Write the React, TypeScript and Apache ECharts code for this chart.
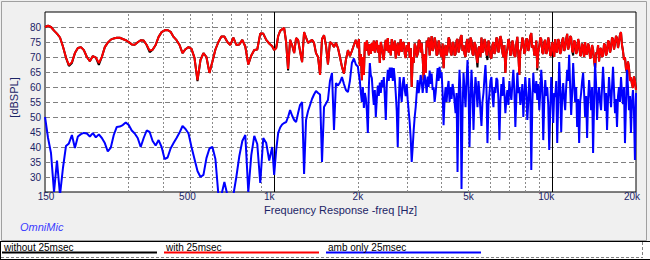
import { useEffect, useRef } from 'react';
import * as echarts from 'echarts';

// Frequency grid of the measurement (Hz)
const freqs = [
  150, 153.8, 157.6, 161.6, 165.6, 169.8, 174, 178.4, 182.8, 187.4,
  192.1, 196.9, 201.9, 206.9, 212.1, 217.4, 222.9, 228.5, 234.2, 240.1,
  246.1, 252.2, 258.6, 265, 271.7, 278.5, 285.5, 292.6, 300, 307.5,
  315.2, 323.1, 331.2, 339.5, 348, 356.7, 365.6, 374.8, 384.2, 393.8,
  403.7, 413.8, 424.2, 434.8, 445.7, 456.9, 468.3, 480, 492.1, 504.4,
  517, 530, 543.3, 556.9, 570.8, 585.2, 599.8, 614.8, 630.3, 646,
  662.2, 678.8, 695.8, 713.3, 731.1, 749.5, 768.2, 787.5, 807.2, 827.5,
  848.2, 869.4, 891.2, 913.6, 936.5, 959.9, 984,
  1000, 1017, 1034, 1051, 1068, 1086, 1104, 1122, 1141, 1160,
  1180, 1199, 1219, 1239, 1260, 1281, 1302, 1324, 1346, 1368,
  1391, 1414, 1438, 1462, 1486, 1511, 1536, 1561, 1587, 1614,
  1641, 1668, 1696, 1724, 1753, 1782, 1811, 1842, 1872, 1903,
  1935, 1967,
  2000, 2017, 2033, 2050, 2067, 2084, 2102, 2119, 2136, 2154,
  2172, 2190, 2208, 2226, 2245, 2263, 2282, 2301, 2320, 2339,
  2359, 2378, 2398, 2418, 2438, 2458, 2479, 2499, 2520, 2541,
  2562, 2583, 2604, 2626, 2648, 2670, 2692, 2714, 2736, 2759,
  2782, 2805, 2828, 2852, 2875, 2899, 2923, 2948, 2972, 2997,
  3021, 3046, 3072, 3097, 3123, 3149, 3175, 3201, 3228, 3254,
  3281, 3308, 3336, 3363, 3391, 3419, 3448, 3476, 3505, 3534,
  3564, 3593, 3623, 3653, 3683, 3714, 3744, 3775, 3807, 3838,
  3870, 3902, 3934, 3967, 4000, 4033, 4066, 4100, 4134, 4168,
  4203, 4238, 4273, 4308, 4344, 4380, 4416, 4453, 4490, 4527,
  4564, 4602, 4640, 4679, 4717, 4757, 4796, 4836, 4876, 4916,
  4957, 4998, 5039, 5081, 5123, 5166, 5209, 5252, 5295, 5339,
  5383, 5428, 5473, 5518, 5564, 5610, 5657, 5703, 5751, 5798,
  5846, 5895, 5944, 5993, 6043, 6093, 6143, 6194, 6245, 6297,
  6349, 6402, 6455, 6508, 6562, 6617, 6671, 6727, 6782, 6839,
  6895, 6953, 7010, 7068, 7127, 7186, 7245, 7305, 7366, 7427,
  7488, 7550, 7613, 7676, 7740, 7804, 7868, 7934, 7999, 8066,
  8133, 8200, 8268, 8336, 8405, 8475, 8545, 8616, 8688, 8760,
  8832, 8905, 8979, 9053, 9128, 9204, 9280, 9357, 9435, 9513,
  9592, 9671, 9751, 9832, 9914, 9996, 10079, 10162, 10246, 10331,
  10417, 10503, 10590, 10678, 10766, 10855, 10945, 11036, 11127, 11220,
  11313, 11407, 11501, 11596, 11692, 11789, 11887, 11985, 12085, 12185,
  12286, 12388, 12490, 12594, 12698, 12803, 12909, 13016, 13124, 13233,
  13343, 13453, 13565, 13677, 13790, 13905, 14020, 14136, 14253, 14371,
  14490, 14610, 14731, 14853, 14976, 15101, 15226, 15352, 15479, 15607,
  15737, 15867, 15999, 16131, 16265, 16400, 16535, 16672, 16810, 16950,
  17090, 17232, 17375, 17519, 17664, 17810, 17958, 18106, 18256, 18407,
  18560, 18714, 18869, 19025, 19183, 19342, 19502, 19663, 19826, 20000,
];

// "without 25msec" (dBSPL)
const withoutDb = [
  80, 80.4, 80, 78.8, 77.8, 76.5, 73.5, 69.8, 67, 68,
  71.3, 73, 73.3, 72.3, 70, 68.6, 70.3, 69.8, 67.4, 70,
  73.3, 74.8, 75.8, 76.2, 76.4, 76.4, 76, 75.6, 75, 74.2,
  74.1, 74.9, 75.6, 75.5, 74, 71.6, 72.4, 74, 76.7, 78.3,
  78.9, 79, 78.4, 76.7, 75.6, 74, 71.3, 72.6, 73.3, 72.7,
  69.7, 62, 69, 71.3, 70, 64.7, 68.5, 72.5, 75, 76.8,
  76.8, 75, 74, 76.5, 74, 74.2, 75.7, 73.5, 67.5, 70.5,
  72.3, 72.5, 77.8, 77.8, 75.7, 74.5, 73.6,
  72.3, 73, 77, 78.7, 79.2, 79.7, 75, 65.5, 75.7, 74,
  71.3, 76.3, 75.7, 72, 68.3, 78.3, 76.5, 74.7, 75.2, 75.7,
  74.7, 71.3, 70, 64, 76, 77.3, 73.8, 67.5, 75, 74.5,
  73.3, 74.7, 73, 70, 66.7, 64.5, 69, 72.3, 70.3, 72,
  74, 75.7,
  73, 76, 67, 71, 62.3, 70, 64, 75, 72, 75.5,
  73.5, 70.5, 74.3, 71, 74.7, 72, 75.5, 71.5, 74, 75.5,
  71.5, 74, 68, 75, 73.3, 71, 69, 74, 75.7, 72,
  76.3, 71.5, 74, 70.5, 76, 72.5, 72.3, 75.5, 69.5, 73,
  74.7, 70.5, 73, 76, 71.7, 74.5, 75, 71, 69.7, 74,
  72, 75, 69.7, 73, 60, 70, 68, 74.5, 73.3, 70,
  71, 75.5, 75.5, 71.5, 74.7, 70, 62.3, 71, 64.7, 75.5,
  73.3, 76.5, 70.5, 74, 77, 72, 73, 76.5, 75, 70.5,
  71, 75.5, 74, 71, 70, 74.5, 66.3, 72, 74, 70.5,
  72, 76.5, 75.7, 71.5, 70.5, 75, 74.5, 70.5, 71, 75.5,
  76, 71.5, 73, 76.5, 77.3, 72, 74, 71, 70, 75,
  76, 71.5, 72.5, 76.5, 75.5, 71, 70.5, 75, 74, 70,
  66.5, 73, 73.5, 70, 76.5, 71.5, 72, 76, 75, 71,
  69, 75.5, 73.5, 70, 69.5, 74, 75, 71, 72, 76.5,
  76, 71.5, 73, 77, 75.7, 71.5, 70, 74, 64.7, 71,
  72.5, 76, 75, 70.5, 71, 75.5, 74, 70.5, 70, 74.5,
  76.7, 71, 64, 72, 73, 76.5, 75.5, 71, 72, 76,
  76, 72, 73.5, 77, 78, 73, 74, 70.5, 71, 75.5,
  65.5, 72, 73.5, 76.5, 76, 71.5, 71, 75, 75.7, 71,
  72, 76.5, 74.5, 70.5, 70.5, 75, 73.5, 70, 76, 72,
  71.5, 76, 75, 71, 72, 75.5, 76.5, 72, 73, 76,
  77.7, 72.5, 74, 77, 76.5, 72, 70.5, 75.5, 75, 71,
  72, 76, 74.5, 70.5, 70.5, 74.5, 73.5, 70, 75, 71,
  71, 74.5, 73.5, 69.5, 70, 74, 72.5, 69, 66.3, 71.5,
  71, 74, 68.5, 72.5, 73, 70, 70.5, 74.5, 74, 70.5,
  71.5, 75.5, 75, 71.5, 73, 76.5, 76, 72.5, 74.5, 77,
  76.3, 73, 75, 77.5, 78.3, 74, 72, 69, 70, 66,
  65, 68.5, 66.5, 62, 63.3, 61, 59.7, 63.5, 62, 59,
];

// "with 25msec" (dBSPL)
const withDb = [
  80, 80.4, 80, 78.8, 77.8, 76.5, 73.5, 69.8, 67.3, 68.3,
  71.3, 73, 73.3, 72.3, 70, 68.6, 70.3, 69.8, 68, 70,
  73.3, 74.8, 75.8, 76.2, 76.4, 76.4, 76, 75.6, 75, 74.2,
  74.1, 74.9, 75.6, 75.5, 74, 72.2, 72.4, 74, 76.7, 78.3,
  78.9, 79, 78.4, 76.7, 75.6, 74, 71.3, 72.6, 73.3, 72.7,
  69.7, 62.3, 69, 71.3, 70, 64.7, 68.5, 72.5, 75, 76.8,
  76.8, 75, 74, 76.5, 74, 74.2, 75.7, 73.5, 67.5, 70.5,
  72.3, 72.5, 77.8, 77.8, 75.7, 74.5, 73.6,
  72.3, 73, 77, 78.7, 79.2, 79.7, 75, 66, 75.7, 74,
  71.3, 76.3, 75.7, 72, 68.3, 78.3, 76.5, 74.7, 75.2, 75.7,
  74.7, 71.3, 70, 64, 76, 77.3, 73.8, 67.5, 75, 74.5,
  73.3, 74.7, 73, 70, 66.7, 64.5, 69, 72.3, 70.3, 72,
  74, 75.7,
  73, 76, 67, 71, 62.3, 70, 64, 75, 72, 75.5,
  73.5, 70.5, 74.3, 71, 74.7, 72, 75.5, 71.5, 74, 75.5,
  71.5, 74, 68, 75, 73.3, 71, 69, 74, 75.7, 72,
  76.3, 71.5, 74, 70.5, 76, 72.5, 72.3, 75.5, 69.5, 73,
  74.7, 70.5, 73, 76, 71.7, 74.5, 75, 71, 69.7, 74,
  72, 75, 69.7, 73, 60, 70, 68, 74.5, 73.3, 70,
  71, 75.5, 75.5, 71.5, 74.7, 70, 62.3, 71, 64.7, 75.5,
  73.3, 76.5, 70.5, 74, 77, 72, 73, 76.5, 75, 70.5,
  71, 75.5, 74, 71, 70, 74.5, 66.3, 72, 74, 70.5,
  72, 76.5, 75.7, 71.5, 70.5, 75, 74.5, 70.5, 71, 75.5,
  76, 71.5, 73, 76.5, 77.3, 72, 74, 71, 70, 75,
  76, 71.5, 72.5, 76.5, 75.5, 71, 70.5, 75, 74, 70,
  68, 73, 73.5, 70, 76.5, 71.5, 72, 76, 75, 71,
  70.5, 75.5, 73.5, 70, 69.5, 74, 75, 71, 72, 76.5,
  76, 71.5, 73, 77, 75.7, 71.5, 70, 74, 64.7, 71,
  72.5, 76, 75, 70.5, 71, 75.5, 74, 70.5, 70, 74.5,
  76.7, 71, 64, 72, 73, 76.5, 75.5, 71, 72, 76,
  76, 72, 73.5, 77, 78, 73, 74, 70.5, 71, 75.5,
  66.3, 72, 73.5, 76.5, 76, 71.5, 71, 75, 75.7, 71,
  72, 76.5, 74.5, 70.5, 70.5, 75, 73.5, 70, 76, 72,
  71.5, 76, 75, 71, 72, 75.5, 76.5, 72, 73, 76,
  77.7, 72.5, 74, 77, 76.5, 72, 71.5, 75.5, 75, 71,
  72, 76, 74.5, 70.5, 70.5, 74.5, 73.5, 70, 75, 71,
  71, 74.5, 73.5, 69.5, 70, 74, 72.5, 69, 66.3, 71.5,
  71, 74, 68.5, 72.5, 73, 70, 70.5, 74.5, 74, 70.5,
  71.5, 75.5, 75, 71.5, 73, 76.5, 76, 72.5, 74.5, 77,
  76.3, 73, 75, 77.5, 78.3, 74, 72, 69, 70, 66,
  65, 68.5, 66.5, 62, 63.3, 61, 59.7, 63.5, 62, 59,
];

// "amb only 25msec" (dBSPL)
const ambDb = [
  50, 43, 38, 25, 35.5, 24, 33, 40.3, 41.2, 44,
  39.7, 43.5, 44.3, 44.7, 44.5, 43.5, 44.6, 43.2, 44.2, 43,
  41.3, 38.5, 39.8, 44, 46.7, 46.8, 47.3, 48.2, 47.3, 45.5,
  44.5, 43, 40, 43, 45.5, 45, 42, 40.5, 42.3, 40,
  36, 36.5, 39.5, 41.3, 43, 44.8, 47, 46, 44.5, 40,
  36, 32, 30, 30.7, 36.3, 39.5, 40, 36, 24, 24,
  28.3, 24, 24, 24, 30, 37, 42, 44, 25, 37.3,
  43.7, 41, 28, 43, 41.3, 35.5, 40,
  30.7, 39, 44.7, 46.5, 47.5, 48, 48.3, 50, 52.3, 50.5,
  49, 48.3, 51.3, 54, 55, 31, 49, 52, 54, 56,
  57.5, 58.7, 58, 57.5, 35, 53.3, 54.5, 55.7, 62, 64.7,
  45.7, 61.3, 60.5, 61.5, 63.3, 61, 59, 58.3, 62, 68,
  69.5, 67.5,
  66.8, 64, 62, 58, 55, 60, 53, 58, 56.3, 52,
  44.7, 60, 68, 64, 63, 58, 54, 59, 50, 56,
  60.5, 57, 61.5, 58, 62.3, 60, 63.3, 57, 49, 61,
  65.7, 62, 66.5, 63, 66.5, 62, 66.3, 63, 58, 52,
  40, 55, 63.3, 58, 55, 61, 63.3, 59, 57, 61,
  55.7, 52, 48, 43, 35, 40, 45.7, 50, 53.3, 58,
  62.3, 58, 60.5, 64, 62, 58, 61, 64, 61.7, 58,
  63.5, 60, 65.5, 61, 64.5, 59, 60, 55, 58, 62,
  66.3, 62, 66.7, 63, 65, 58, 47.3, 56, 60, 55,
  59.5, 62, 55, 60, 56, 61, 59, 55, 51.3, 58,
  31.7, 56, 65.7, 58, 26, 52, 64.7, 59, 53.3, 62,
  69, 60, 40, 56, 65.7, 58, 45.7, 57, 63.3, 59,
  53.3, 62, 58, 52, 47, 55, 58, 63, 67.3, 60,
  41.3, 54, 58, 62, 63.3, 57, 53.3, 60, 58, 63,
  62.3, 56, 42.3, 55, 61, 57, 63.3, 58, 51.3, 56,
  59, 54, 62, 58, 55.7, 61, 65.7, 59, 46.7, 56,
  64.7, 58, 60, 54, 56.7, 61, 50, 57, 63.3, 58,
  49, 55, 63, 58, 32.3, 54, 64.7, 59, 58, 62,
  55.7, 61, 52.3, 58, 65.7, 60, 42.3, 55, 62.3, 57,
  60, 54, 39, 52, 63.3, 57, 48, 58, 56.7, 62,
  41.3, 55, 68.3, 60, 45, 57, 61.3, 56, 52.3, 60,
  65.7, 62, 70.7, 60, 50.7, 58, 68, 61, 55, 60,
  46.7, 56, 41.3, 55, 58, 62, 64.7, 58, 50, 57,
  43, 56, 62.3, 58, 52.3, 60, 38, 55, 68, 61,
  49, 57, 60, 55, 52.3, 60, 66.7, 60, 52, 58,
  45.7, 56, 63.3, 58, 53.3, 60, 66.7, 59, 51.3, 56,
  46.7, 57, 60, 55, 63.3, 58, 54.3, 60, 41.3, 54,
  65.7, 60, 52.3, 57, 44.7, 55, 59, 52, 35.7, 58,
];

const seriesNames = ['without 25msec', 'with 25msec', 'amb only 25msec'];
const seriesColors = ['#000000', '#ff0000', '#0000ff'];

const xTickValues = [150, 500, 1000, 2000, 5000, 10000, 20000];
const xTickTexts = ['150', '500', '1k', '2k', '5k', '10k', '20k'];
const minorGridFreqs = [300, 400, 500, 600, 700, 800, 900, 2000, 3000, 4000, 5000, 6000, 7000, 8000, 9000];
const majorGridFreqs = [1000, 10000];

export default function App() {
  const ref = useRef<HTMLDivElement>(null);

  useEffect(() => {
    document.body.style.margin = '0';
    const chart = echarts.init(ref.current!, null, { renderer: 'svg' });
    const font = '"Liberation Sans", Arial, sans-serif';
    const tickColor = '#1b2466';
    const zip = (ys: number[]) => freqs.map((f, i) => [f, ys[i]]);
    const labelOffsets = [1, -3, -5, 0, 0, -6, -4];

    const markData: any[] = [
      ...minorGridFreqs.map((v) => ({
        xAxis: v,
        lineStyle: { color: '#8a8a8a', type: [2, 2], width: 1 },
      })),
      ...majorGridFreqs.map((v) => ({
        xAxis: v,
        lineStyle: { color: '#000000', type: 'solid', width: 1 },
      })),
      ...xTickValues.map((v, i) => ({
        xAxis: v,
        lineStyle: { color: 'rgba(0,0,0,0)', width: 0 },
        label: {
          show: true,
          position: 'start',
          distance: 0,
          formatter: xTickTexts[i],
          color: tickColor,
          fontSize: 10,
          fontFamily: font,
          offset: [labelOffsets[i], -1],
        },
      })),
    ];

    const series: any[] = seriesNames.map((name, k) => ({
      type: 'line',
      name,
      data: zip([withoutDb, withDb, ambDb][k]),
      symbol: 'none',
      showSymbol: false,
      lineStyle: { color: seriesColors[k], width: 2 },
      itemStyle: { color: seriesColors[k] },
      z: 2 + k,
      clip: true,
      silent: true,
    }));

    series.unshift({
      type: 'line',
      name: 'grid',
      data: [],
      silent: true,
      clip: false,
      z: 1,
      markLine: {
        silent: true,
        z: 1,
        symbol: ['none', 'none'],
        animation: false,
        label: { show: false },
        emphasis: { disabled: true },
        data: markData,
      },
    });

    chart.setOption({
      animation: false,
      backgroundColor: '#f0f0f0',
      textStyle: { fontFamily: font },
      grid: {
        left: 43,
        top: 12,
        width: 593,
        height: 180,
        show: true,
        backgroundColor: '#ffffff',
        borderColor: '#000000',
        borderWidth: 1,
      },
      xAxis: {
        type: 'log',
        logBase: 10,
        min: 150,
        max: 20000,
        name: 'Frequency Response -freq [Hz]',
        nameLocation: 'middle',
        nameGap: 12,
        nameTextStyle: { color: tickColor, fontSize: 11, fontFamily: font },
        axisLine: { show: false },
        axisTick: { show: false },
        axisLabel: { show: false },
        splitLine: { show: false },
        minorSplitLine: { show: false },
      },
      yAxis: {
        type: 'value',
        min: 25,
        max: 85,
        interval: 5,
        name: '[dBSPL]',
        nameLocation: 'middle',
        nameGap: 15,
        nameTextStyle: { color: tickColor, fontSize: 11, fontFamily: font, padding: [0, 0, 0, 9] },
        axisLine: { show: false },
        axisTick: { show: false },
        axisLabel: {
          color: tickColor,
          fontSize: 10,
          fontFamily: font,
          margin: 4,
          formatter: (v: number) => (v === 25 || v === 85 ? '' : String(v)),
        },
        splitLine: {
          show: true,
          showMinLine: false,
          showMaxLine: false,
          lineStyle: { color: '#808080', type: [5, 3], width: 1 },
        },
      },
      graphic: [
        {
          type: 'rect',
          silent: true,
          shape: { x: 1.5, y: 1.5, width: 645, height: 239 },
          style: { fill: 'none', stroke: '#a0a0a0', lineWidth: 1 },
        },
        {
          type: 'text',
          silent: true,
          x: 20,
          y: 227,
          style: {
            text: 'OmniMic',
            fill: '#3c3cff',
            font: `italic 11px ${font}`,
            verticalAlign: 'middle',
          },
        },
        {
          type: 'rect',
          silent: true,
          shape: { x: 0, y: 241, width: 650, height: 19 },
          style: { fill: '#ffffff' },
        },
        {
          type: 'line',
          silent: true,
          shape: { x1: 0, y1: 241.5, x2: 650, y2: 241.5 },
          style: { stroke: '#000000', lineWidth: 1 },
        },
        {
          type: 'line',
          silent: true,
          shape: { x1: 0.5, y1: 241, x2: 0.5, y2: 260 },
          style: { stroke: '#000000', lineWidth: 1 },
        },
        {
          type: 'line',
          silent: true,
          shape: { x1: 1, y1: 257.5, x2: 643, y2: 257.5 },
          style: { stroke: '#808080', lineWidth: 1, lineDash: [3, 2] },
        },
        {
          type: 'line',
          silent: true,
          shape: { x1: 642.5, y1: 242, x2: 642.5, y2: 258 },
          style: { stroke: '#808080', lineWidth: 1, lineDash: [3, 2] },
        },
        {
          type: 'line',
          silent: true,
          shape: { x1: 0, y1: 259.5, x2: 650, y2: 259.5 },
          style: { stroke: '#000000', lineWidth: 1 },
        },
        ...seriesNames.flatMap((name, k) => {
          const x0 = [2, 164, 326][k];
          return [
            {
              type: 'line',
              silent: true,
              shape: { x1: x0, y1: 252.5, x2: x0 + 155, y2: 252.5 },
              style: { stroke: seriesColors[k], lineWidth: 2 },
            },
            {
              type: 'text',
              silent: true,
              x: x0 + 2,
              y: 247,
              style: {
                text: name,
                fill: '#000000',
                font: `10px ${font}`,
                verticalAlign: 'middle',
              },
            },
          ];
        }),
      ],
      series,
    });

    return () => {
      chart.dispose();
    };
  }, []);

  return (
    <div
      ref={ref}
      style={{ position: 'fixed', left: 0, top: 0, width: 650, height: 260 }}
    />
  );
}
